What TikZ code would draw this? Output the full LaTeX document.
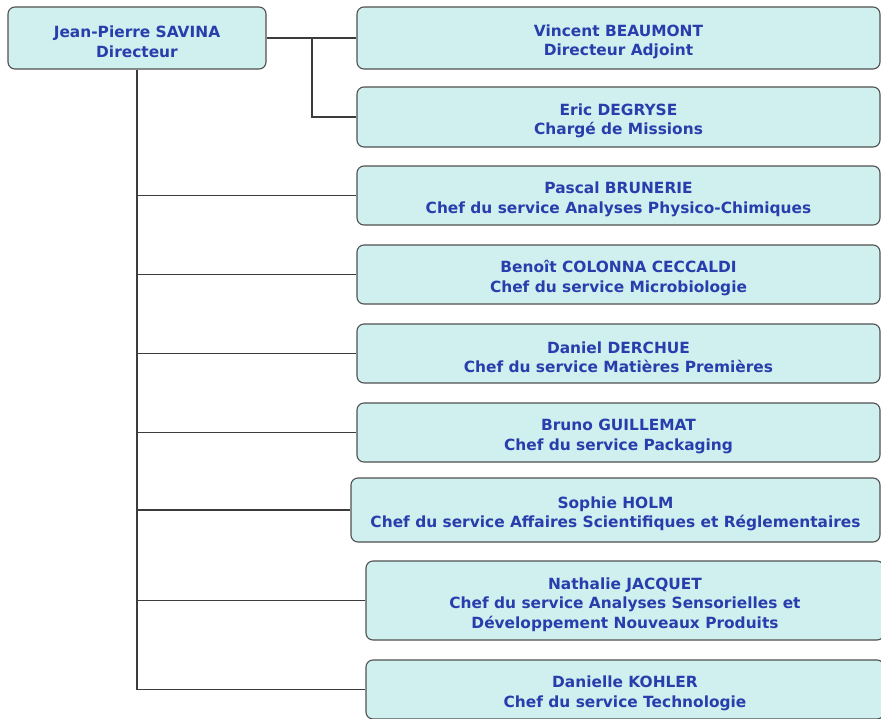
\documentclass[tikz,border=0pt]{standalone}
\usepackage{fontspec}
\setmainfont{DejaVu Sans}
\definecolor{boxfill}{RGB}{208,239,239}
\definecolor{boxline}{RGB}{80,80,80}
\definecolor{txtblue}{RGB}{40,62,172}
\definecolor{conn}{RGB}{60,60,60}
\newcommand{\lowertxt}{\rule{0pt}{19.5pt}}
\tikzset{
  orgbox/.style={draw=boxline, line width=1.1pt, fill=boxfill, rounded corners=7pt,
    inner sep=0pt, align=center, text=txtblue,
    font=\fontsize{15.4}{19.5}\selectfont\bfseries},
  link/.style={draw=conn, line width=1.1pt}
}
\begin{document}
\begin{tikzpicture}[x=1pt,y=-1pt]
\useasboundingbox[fill=white] (0,0) rectangle (881,718);
\node[orgbox, minimum width=258pt, minimum height=62pt] (dir) at (137,38) {\lowertxt Jean-Pierre SAVINA\\Directeur};
\node[orgbox, minimum width=523pt, minimum height=62pt] (vin) at (618.5,38) {\lowertxt Vincent BEAUMONT\\Directeur Adjoint};
\node[orgbox, minimum width=523pt, minimum height=60pt] (eric) at (618.5,117) {\lowertxt Eric DEGRYSE\\Chargé de Missions};
\node[orgbox, minimum width=523pt, minimum height=59pt] (pascal) at (618.5,195.5) {\lowertxt Pascal BRUNERIE\\Chef du service Analyses Physico-Chimiques};
\node[orgbox, minimum width=523pt, minimum height=59pt] (benoit) at (618.5,274.5) {\lowertxt Benoît COLONNA CECCALDI\\Chef du service Microbiologie};
\node[orgbox, minimum width=523pt, minimum height=59pt] (daniel) at (618.5,353.5) {\lowertxt Daniel DERCHUE\\Chef du service Matières Premières};
\node[orgbox, minimum width=523pt, minimum height=59pt] (bruno) at (618.5,432.5) {\lowertxt Bruno GUILLEMAT\\Chef du service Packaging};
\node[orgbox, minimum width=529pt, minimum height=64pt] (sophie) at (615.5,510) {\lowertxt Sophie HOLM\\Chef du service Affaires Scientifiques et Réglementaires};
\node[orgbox, minimum width=518pt, minimum height=79pt] (nathalie) at (625,600.5) {\lowertxt Nathalie JACQUET\\Chef du service Analyses Sensorielles et\\Développement Nouveaux Produits};
\node[orgbox, minimum width=518pt, minimum height=59pt] (danielle) at (625,689.5) {\lowertxt Danielle KOHLER\\Chef du service Technologie};
\coordinate (j) at (312,38);
\path[link] (dir.east) -- (vin.west);
\path[link] (j) |- (eric.west);
\path[link] (dir.south) -- (dir.south |- danielle.west) -- (danielle.west);
\foreach \n in {pascal,benoit,daniel,bruno,sophie,nathalie}{
  \path[link] (dir.south |- \n.west) -- (\n.west);
}
\end{tikzpicture}
\end{document}
